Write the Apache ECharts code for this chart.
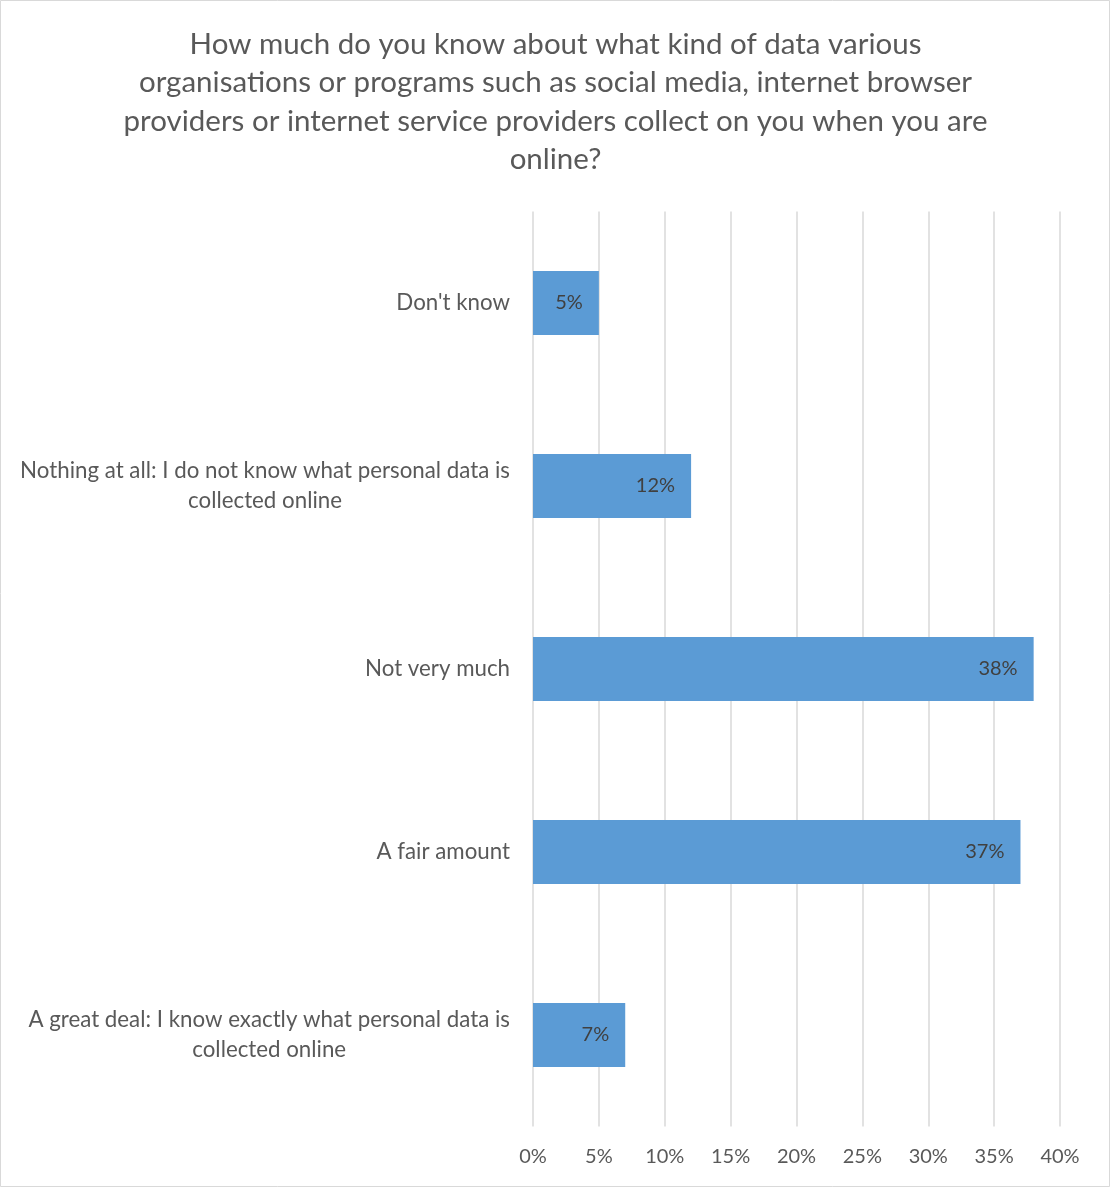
<!DOCTYPE html>
<html>
<head>
<meta charset="utf-8">
<title>Knowledge of online data collection</title>
<script src="https://cdn.jsdelivr.net/npm/echarts@6/dist/echarts.min.js"></script>
<style>
  html, body { margin: 0; padding: 0; background: #ffffff; }
  #chart { width: 1111px; height: 1188px; }
</style>
</head>
<body>
<div id="chart"></div>
<script>
// Survey answers, listed from the top of the chart down
const categories = [
  "Don't know",
  "Nothing at all: I do not know what personal data is\ncollected online",
  "Not very much",
  "A fair amount",
  "A great deal: I know exactly what personal data is\ncollected online"
];
const shares = [5, 12, 38, 37, 7];
const xTicks = [0, 5, 10, 15, 20, 25, 30, 35, 40];

const titleText = "How much do you know about what kind of data various\n" +
  "organisations or programs such as social media, internet browser\n" +
  "providers or internet service providers collect on you when you are\n" +
  "online?";

const FONT = "Lato, 'Open Sans', sans-serif";

const chart = echarts.init(document.getElementById('chart'));
chart.setOption({
  backgroundColor: '#ffffff',
  animation: false,
  graphic: [{
    type: 'rect',
    shape: { x: 0.5, y: 0.5, width: 1109, height: 1186 },
    style: { fill: 'none', stroke: '#d9d9d9', lineWidth: 1 },
    silent: true
  }],
  title: {
    text: titleText,
    left: 'center',
    top: 20,
    textStyle: {
      fontFamily: FONT,
      fontSize: 29.5,
      fontWeight: 'normal',
      color: '#595959',
      lineHeight: 38.5,
      align: 'center'
    }
  },
  grid: {
    left: 533,
    right: 51,
    top: 211.5,
    height: 915,
    containLabel: false
  },
  xAxis: {
    type: 'value',
    min: xTicks[0],
    max: xTicks[xTicks.length - 1],
    interval: xTicks[1] - xTicks[0],
    axisLine: { show: false },
    axisTick: { show: false },
    splitLine: { show: true, lineStyle: { color: '#d9d9d9', width: 1.5 } },
    axisLabel: {
      formatter: v => v + '%',
      fontFamily: FONT,
      fontSize: 20,
      color: '#595959',
      margin: 20
    }
  },
  yAxis: {
    type: 'category',
    inverse: true,
    data: categories,
    axisLine: { show: false },
    axisTick: { show: false },
    axisLabel: {
      margin: 23,
      align: 'right',
      formatter: v => v.split('\n').map(line => '{c|' + line + '}').join('\n'),
      rich: {
        c: {
          align: 'center',
          fontFamily: FONT,
          fontSize: 22.3,
          color: '#595959',
          lineHeight: 30
        }
      }
    }
  },
  series: [{
    type: 'bar',
    data: shares,
    barWidth: 64,
    itemStyle: { color: '#5b9bd5' },
    label: {
      show: true,
      position: 'insideRight',
      distance: 16,
      formatter: p => p.value + '%',
      fontFamily: FONT,
      fontSize: 20,
      color: '#404040'
    }
  }]
});
</script>
</body>
</html>
